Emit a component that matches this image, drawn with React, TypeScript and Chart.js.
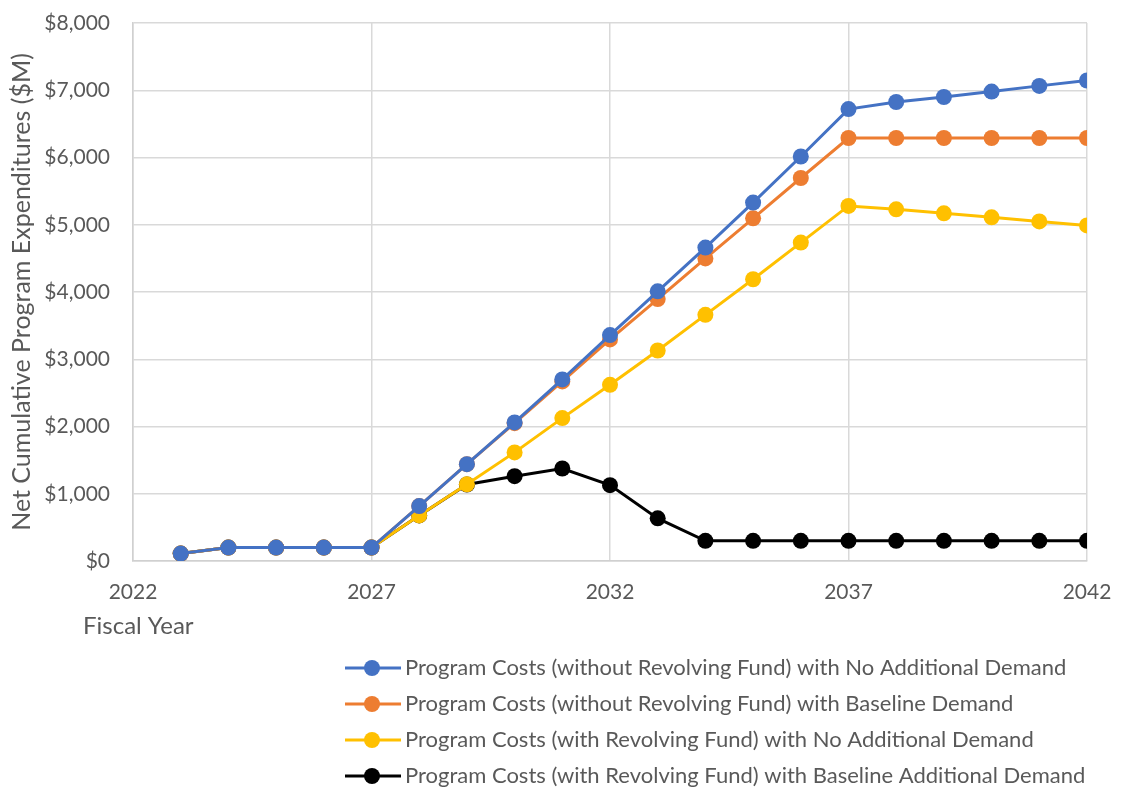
import React, { useEffect, useRef } from "react";
import { Chart, registerables } from "chart.js";

Chart.register(...registerables);

const years = [2023, 2024, 2025, 2026, 2027, 2028, 2029, 2030, 2031, 2032, 2033, 2034, 2035, 2036, 2037, 2038, 2039, 2040, 2041, 2042];

const blueValues = [110, 200, 200, 200, 200, 816, 1440, 2060, 2700, 3360, 4010, 4660, 5330, 6015, 6720, 6825, 6900, 6980, 7065, 7145];
const orangeValues = [110, 200, 200, 200, 200, 816, 1440, 2050, 2670, 3295, 3895, 4500, 5095, 5695, 6290, 6290, 6290, 6290, 6290, 6290];
const yellowValues = [110, 200, 200, 200, 200, 678, 1140, 1615, 2125, 2620, 3130, 3660, 4190, 4735, 5280, 5230, 5170, 5110, 5050, 4990];
const blackValues = [110, 200, 200, 200, 200, 678, 1138, 1261, 1375, 1128, 634, 300, 300, 300, 300, 300, 300, 300, 300, 300];

const seriesLabels = [
  "Program Costs (without Revolving Fund) with No Additional Demand",
  "Program Costs (without Revolving Fund) with Baseline Demand",
  "Program Costs (with Revolving Fund) with No Additional Demand",
  "Program Costs (with Revolving Fund) with Baseline Additional Demand",
];
const seriesColors = ["#4472C4", "#ED7D31", "#FFC000", "#000000"];
const seriesValues = [blueValues, orangeValues, yellowValues, blackValues];

const xTitle = "Fiscal Year";
const yTitle = "Net Cumulative Program Expenditures ($M)";

const FONT = "Lato";
const TEXT = "#595959";

export default function App() {
  const ref = useRef<HTMLCanvasElement>(null);
  useEffect(() => {
    document.body.style.margin = "0";
    const canvas = ref.current!;
    const extras = {
      id: "extras",
      afterDraw(chart: any) {
        const ctx = chart.ctx;
        ctx.save();
        ctx.fillStyle = TEXT;
        ctx.font = `24px ${FONT}`;
        ctx.textAlign = "left";
        ctx.textBaseline = "middle";
        ctx.fillText(xTitle, 83, 626);
        // legend
        seriesLabels.forEach((lab, i) => {
          const y = 668 + 36 * i;
          ctx.strokeStyle = seriesColors[i];
          ctx.lineWidth = 3;
          ctx.beginPath();
          ctx.moveTo(345, y);
          ctx.lineTo(401, y);
          ctx.stroke();
          ctx.fillStyle = seriesColors[i];
          ctx.beginPath();
          ctx.arc(372, y, 8, 0, Math.PI * 2);
          ctx.fill();
          ctx.fillStyle = TEXT;
          ctx.font = `22px ${FONT}`;
          ctx.fillText(lab, 405, y);
        });
        ctx.restore();
      },
    };
    const chart = new Chart(canvas, {
      type: "line",
      data: {
        datasets: seriesValues.map((vals, i) => ({
          label: seriesLabels[i],
          data: years.map((yr, j) => ({ x: yr, y: vals[j] })),
          borderColor: seriesColors[i],
          backgroundColor: seriesColors[i],
          borderWidth: 3,
          pointRadius: 8,
          pointHoverRadius: 8,
          pointBorderWidth: 0,
          tension: 0,
        })),
      },
      options: {
        animation: false,
        responsive: false,
        layout: { padding: { top: 23, right: 38, left: 0, bottom: 0 } },
        plugins: { legend: { display: false }, tooltip: { enabled: false } },
        scales: {
          x: {
            type: "linear",
            min: 2022,
            max: 2042,
            ticks: {
              stepSize: 5,
              color: TEXT,
              font: { family: FONT, size: 21 },
              padding: 19,
              maxRotation: 0,
              callback: (v: any) => String(v),
            },
            grid: { color: "#d9d9d9", lineWidth: 1.5, drawTicks: false },
            border: { color: "#d0d0d0", width: 1.5 },
            afterFit: (s: any) => {
              s.height = 787 - 561;
              s.paddingLeft = 0;
              s.paddingRight = 0;
            },
          },
          y: {
            min: 0,
            max: 8000,
            ticks: {
              stepSize: 1000,
              color: TEXT,
              font: { family: FONT, size: 21 },
              padding: 23,
              callback: (v: any) => "$" + Number(v).toLocaleString("en-US"),
            },
            title: {
              display: true,
              text: yTitle,
              color: TEXT,
              font: { family: FONT, size: 25 },
              padding: { top: 7, bottom: 0 },
            },
            grid: { color: "#d9d9d9", lineWidth: 1.5, drawTicks: false },
            border: { color: "#d0d0d0", width: 1.5 },
            afterFit: (s: any) => {
              s.width = 133;
              s.paddingTop = 0;
              s.paddingBottom = 0;
            },
          },
        },
      },
      plugins: [extras],
    });
    return () => chart.destroy();
  }, []);
  return (
    <div style={{ position: "absolute", left: 0, top: 0, width: 1125, height: 787 }}>
      <canvas ref={ref} width={1125} height={787} />
    </div>
  );
}
